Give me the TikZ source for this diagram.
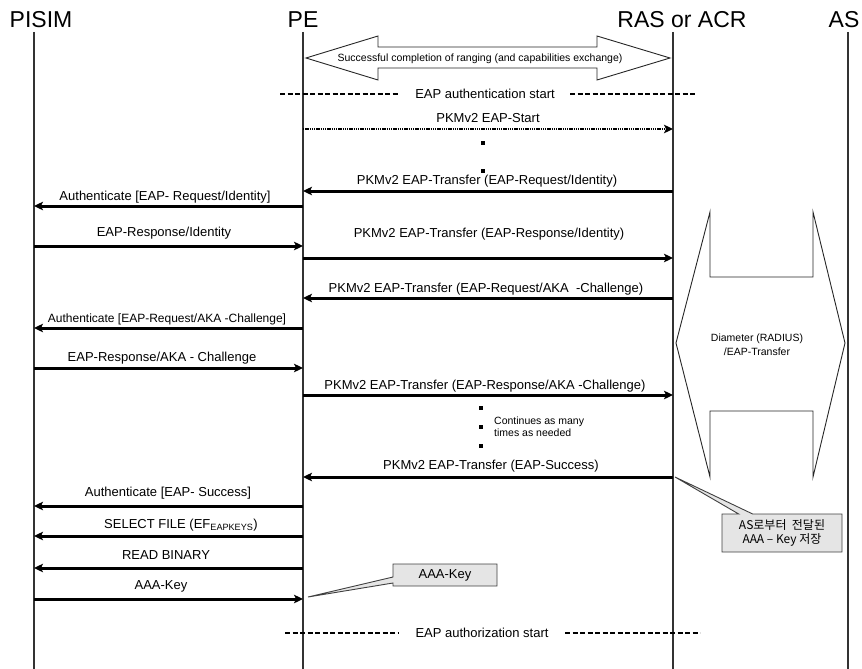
\documentclass[tikz,border=0pt]{standalone}
\usepackage{fontspec}
\setmainfont{Liberation Sans}
\newfontfamily\krfont{Noto Sans CJK KR}
\usetikzlibrary{arrows.meta,shapes.callouts}
\begin{document}
\begin{tikzpicture}[x=1pt,y=-1pt,
  hdr/.style={font=\fontsize{23}{26}\selectfont, anchor=base, inner sep=0pt},
  lbl/.style={font=\fontsize{13}{15}\selectfont, anchor=base, inner sep=0pt},
  lbls/.style={font=\fontsize{12}{14}\selectfont, anchor=base, inner sep=0pt},
  small/.style={font=\fontsize{10.5}{12}\selectfont, anchor=base, inner sep=0pt},
  life/.style={line width=1.3pt, draw=black!80},
  msg/.style={line width=3pt, -{Stealth[length=9pt,width=8.5pt,inset=2pt]}},
  dotmsg/.style={line width=2.4pt, dash pattern=on 1.3pt off 0.9pt, -{Stealth[length=9pt,width=8.5pt,inset=2pt]}},
  sep/.style={line width=1.8pt, dash pattern=on 5pt off 2.5pt},
  thinline/.style={line width=0.9pt, draw=black!85},
  dotbox/.style={fill=black, minimum size=3.5pt, inner sep=0pt},
  callbox/.style={rectangle callout, draw=black!75, fill=black!10, line width=0.9pt, inner sep=0pt}
]
\useasboundingbox (0,0) rectangle (862,669);

% headers
\node[hdr] (hPISIM) at (41,28) {PISIM};
\node[hdr] (hPE) at (303,28) {PE};
\node[hdr] (hRAS) at (682,28) {RAS or ACR};
\node[hdr] (hAS) at (844,28) {AS};

% lifelines
\coordinate (pisim) at (34,32);  \coordinate (pisimE) at (34,669);
\coordinate (pe) at (303,32);    \coordinate (peE) at (303,669);
\coordinate (ras) at (673,32);   \coordinate (rasE) at (673,669);
\coordinate (as) at (848,32);    \coordinate (asE) at (848,669);
\draw[life] (pisim) -- (pisimE);
\draw[life] (pe) -- (peE);
\draw[life] (ras) -- (rasE);
\draw[life] (as) -- (asE);

% ranging double arrow
\draw[thinline, fill=white] (306,58) -- (378,36) -- (378,47) -- (597,47) -- (597,36) -- (670,58)
  -- (597,80) -- (597,68) -- (378,68) -- (378,80) -- cycle;
\node[small] (tRang) at (480,62) {Successful completion of ranging (and capabilities exchange)};

% EAP authentication start
\coordinate (s1a) at (280,94); \coordinate (s1b) at (398,94);
\coordinate (s1c) at (570,94); \coordinate (s1d) at (697,94);
\draw[sep] (s1a) -- (s1b);
\draw[sep] (s1c) -- (s1d);
\node[lbl] (tAuth) at (485,98) {EAP authentication start};

% messages
\draw[dotmsg] (pe |- 0,129) -- (ras |- 0,129);
\node[lbl] (m1) at (488,122) {PKMv2 EAP-Start};

\node[dotbox] (d1) at (483,143) {};
\node[dotbox] (d2) at (483,171) {};

\draw[msg] (ras |- 0,191) -- (pe |- 0,191);
\node[lbl] (m2) at (487,184) {PKMv2 EAP-Transfer (EAP-Request/Identity)};

\draw[msg] (pe |- 0,206) -- (pisim |- 0,206);
\node[lbl] (m3) at (165,200) {Authenticate [EAP- Request/Identity]};

\draw[msg] (pisim |- 0,246) -- (pe |- 0,246);
\node[lbl] (m4) at (164,236) {EAP-Response/Identity};

\draw[msg] (pe |- 0,258) -- (ras |- 0,258);
\node[lbl] (m5) at (489,237) {PKMv2 EAP-Transfer (EAP-Response/Identity)};

\draw[msg] (ras |- 0,298) -- (pe |- 0,298);
\node[lbl] (m6) at (486,292) {PKMv2 EAP-Transfer (EAP-Request/AKA \ -Challenge)};

\draw[msg] (pe |- 0,328) -- (pisim |- 0,328);
\node[lbls] (m7) at (167,322) {Authenticate [EAP-Request/AKA -Challenge]};

\draw[msg] (pisim |- 0,368) -- (pe |- 0,368);
\node[lbl] (m8) at (162,361) {EAP-Response/AKA - Challenge};

\draw[msg] (pe |- 0,395) -- (ras |- 0,395);
\node[lbl] (m9) at (485,389) {PKMv2 EAP-Transfer (EAP-Response/AKA -Challenge)};

\node[dotbox] (d3) at (481,408) {};
\node[dotbox] (d4) at (481,427) {};
\node[dotbox] (d5) at (481,446) {};
\node[small, anchor=base west] (c1) at (494,424) {Continues as many};
\node[small, anchor=base west] (c2) at (494,436) {times as needed};

\draw[msg] (ras |- 0,477) -- (pe |- 0,477);
\node[lbl] (m10) at (491,469) {PKMv2 EAP-Transfer (EAP-Success)};

\draw[msg] (pe |- 0,506) -- (pisim |- 0,506);
\node[lbl] (m11) at (168,496) {Authenticate [EAP- Success]};

\draw[msg] (pe |- 0,536) -- (pisim |- 0,536);
\node[lbl] (m12) at (181,528) {SELECT FILE (EF\textsubscript{EAPKEYS})};

\draw[msg] (pe |- 0,568) -- (pisim |- 0,568);
\node[lbl] (m13) at (166,559) {READ BINARY};

\draw[msg] (pisim |- 0,599) -- (pe |- 0,599);
\node[lbl] (m14) at (161,589) {AAA-Key};

% Diameter shape
\draw[thinline] (710,212) -- (710,277) -- (813,277) -- (813,212) -- (845,343) -- (813,477)
  -- (813,411) -- (710,411) -- (710,477) -- (676,343) -- cycle;
\node[small] (dia1) at (757,341) {Diameter (RADIUS)};
\node[small] (dia2) at (757,355) {/EAP-Transfer};

% callouts
\coordinate (tipK) at (675,477);
\node[callbox, minimum width=120pt, minimum height=38pt, align=center,
  font=\krfont\fontsize{12}{14.5}\selectfont,
  callout absolute pointer={(tipK)}, callout pointer width=14pt] (cbK) at (782,533)
  {AS로부터~~전달된\\AAA – Key 저장};

\coordinate (tipA) at (308,597);
\node[callbox, minimum width=104pt, minimum height=22pt,
  font=\fontsize{13}{15}\selectfont,
  callout absolute pointer={(tipA)}, callout pointer width=6pt] (cbA) at (445,575) {AAA-Key};

% EAP authorization start
\coordinate (s2a) at (285,633); \coordinate (s2b) at (398,633);
\coordinate (s2c) at (565,633); \coordinate (s2d) at (700,633);
\draw[sep] (s2a) -- (s2b);
\draw[sep] (s2c) -- (s2d);
\node[lbl] (tAuthz) at (482,637) {EAP authorization start};
\end{tikzpicture}
\end{document}
